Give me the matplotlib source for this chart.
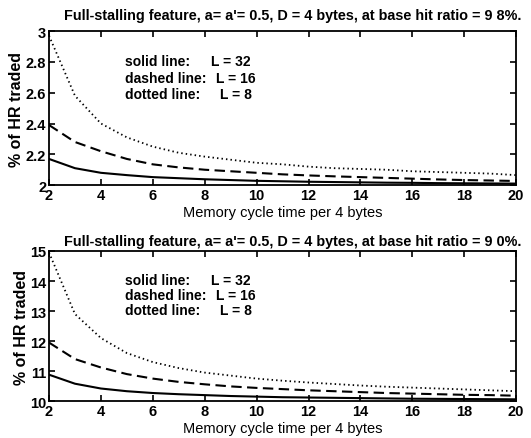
import matplotlib
matplotlib.use("Agg")
import matplotlib.pyplot as plt

plt.rcParams['font.family'] = ['Liberation Sans', 'DejaVu Sans']

x = list(range(2, 21))

# Top panel (base hit ratio 98%)
top_L32 = [2.17, 2.11, 2.08, 2.065, 2.052, 2.045, 2.038, 2.033, 2.028, 2.025,
           2.022, 2.02, 2.018, 2.016, 2.015, 2.013, 2.012, 2.011, 2.01]
top_L16 = [2.39, 2.28, 2.22, 2.17, 2.135, 2.115, 2.10, 2.09, 2.08, 2.07,
           2.063, 2.057, 2.052, 2.047, 2.042, 2.037, 2.033, 2.03, 2.027]
top_L8 = [2.97, 2.58, 2.40, 2.31, 2.25, 2.21, 2.185, 2.165, 2.145, 2.135,
          2.12, 2.11, 2.105, 2.10, 2.09, 2.085, 2.08, 2.075, 2.065]

# Bottom panel (base hit ratio 90%)
bot_L32 = [10.88, 10.58, 10.42, 10.33, 10.27, 10.23, 10.2, 10.17, 10.15, 10.13,
           10.12, 10.11, 10.1, 10.09, 10.08, 10.075, 10.07, 10.065, 10.06]
bot_L16 = [11.95, 11.4, 11.12, 10.9, 10.75, 10.64, 10.56, 10.49, 10.44, 10.4,
           10.36, 10.33, 10.3, 10.27, 10.25, 10.23, 10.21, 10.2, 10.18]
bot_L8 = [14.95, 12.9, 12.1, 11.6, 11.3, 11.1, 10.95, 10.85, 10.75, 10.68,
          10.62, 10.57, 10.52, 10.48, 10.45, 10.42, 10.39, 10.36, 10.33]

titles = ["Full-stalling feature, a= a'= 0.5, D = 4 bytes, at base hit ratio = 9 8%.",
          "Full-stalling feature, a= a'= 0.5, D = 4 bytes, at base hit ratio = 9 0%."]
xlabel = "Memory cycle time per 4 bytes"
ylabel = "% of HR traded"
xticks = [2, 4, 6, 8, 10, 12, 14, 16, 18, 20]
top_yticks = [2, 2.2, 2.4, 2.6, 2.8, 3]
top_yticklabels = ["2", "2.2", "2.4", "2.6", "2.8", "3"]
bot_yticks = [10, 11, 12, 13, 14, 15]
bot_yticklabels = ["10", "11", "12", "13", "14", "15"]
legend_names = ["solid line:", "dashed line:", "dotted line:"]
legend_vals = ["L = 32", "L = 16", "L = 8"]

fig = plt.figure(figsize=(5.31, 4.39), dpi=100)
ax1 = fig.add_axes([0.0923, 0.576, 0.8797, 0.351])
ax2 = fig.add_axes([0.0923, 0.084, 0.8797, 0.342])

panels = [
    (ax1, top_L32, top_L16, top_L8, top_yticks, top_yticklabels, (2, 3), titles[0],
     [0.805, 0.698, 0.59], 9),
    (ax2, bot_L32, bot_L16, bot_L8, bot_yticks, bot_yticklabels, (10, 15), titles[1],
     [0.807, 0.707, 0.607], 4),
]
val_x = [0.347, 0.358, 0.366]

for ax, s, d, dt, yt, ytl, ylim, title, rows, tpad in panels:
    ax.plot(x, s, color='black', lw=1.5, linestyle='-')
    ax.plot(x, d, color='black', lw=1.5, linestyle=(0, (5, 2.6)))
    ax.plot(x, dt, color='black', lw=1.3, linestyle=(0, (0.8, 1.7)))
    ax.set_xlim(2, 20)
    ax.set_ylim(*ylim)
    ax.set_xticks(xticks)
    ax.set_xticklabels([str(v) for v in xticks], fontsize=10.5, fontweight='bold')
    ax.set_yticks(yt)
    ax.set_yticklabels(ytl, fontsize=10.5, fontweight='bold')
    ax.tick_params(direction='in', top=True, right=True, length=4, width=1.2, pad=2)
    for sp in ax.spines.values():
        sp.set_linewidth(1.3)
    ax.set_title(title, fontsize=10.4, fontweight='bold', pad=tpad, x=0.522)
    ax.set_xlabel(xlabel, fontsize=10.5, labelpad=2)
    ax.set_ylabel(ylabel, fontsize=11.5, fontweight='bold', labelpad=1)
    for name, val, ry, vx in zip(legend_names, legend_vals, rows, val_x):
        ax.text(0.163, ry, name, transform=ax.transAxes, fontsize=10,
                fontweight='bold', va='center')
        ax.text(vx, ry, val, transform=ax.transAxes, fontsize=10,
                fontweight='bold', va='center')

fig.savefig("out.png", dpi=100)
